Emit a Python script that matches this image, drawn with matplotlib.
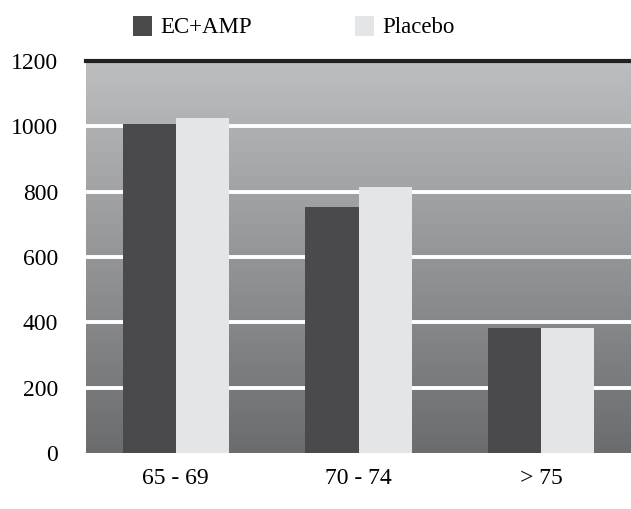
import matplotlib
matplotlib.use("Agg")
import matplotlib.pyplot as plt
import numpy as np

# Age groups and counts per arm
groups = ["65 - 69", "70 - 74", "> 75"]
ec_amp = [1007, 753, 383]
placebo = [1025, 814, 383]
yticks = [0, 200, 400, 600, 800, 1000, 1200]

plt.rcParams["font.family"] = ["Liberation Serif", "DejaVu Serif"]

fig = plt.figure(figsize=(6.31, 5.09), dpi=100)
ax = fig.add_axes([86 / 631, 1 - 453 / 509, (631 - 86) / 631, (453 - 61) / 509])

x = np.arange(len(groups))
w = 0.29
xlo, xhi = -0.49, 2.49

# vertical grey gradient for the plot background, light at the top
grad = np.linspace(0, 1, 256).reshape(-1, 1)
cmap = matplotlib.colors.LinearSegmentedColormap.from_list("bg", ["#bdbec0", "#6b6c6e"])
ax.imshow(grad, aspect="auto", cmap=cmap, extent=[xlo, xhi, 0, 1200],
          origin="upper", zorder=0)
ax.set_xlim(xlo, xhi)
ax.set_ylim(0, 1200)

for y in yticks[1:-1]:
    ax.axhline(y, color="white", lw=2.8, zorder=1)
ax.axhline(1200, color="#231f20", lw=3, zorder=3, clip_on=False)

ax.bar(x - w / 2, ec_amp, w, color="#4a4a4c", zorder=2, label="EC+AMP")
ax.bar(x + w / 2, placebo, w, color="#e4e5e7", zorder=2, label="Placebo")

for s in ax.spines.values():
    s.set_visible(False)
ax.set_yticks(yticks)
ax.set_yticklabels([str(v) for v in yticks], fontsize=17)
ax.set_xticks(x)
ax.set_xticklabels(groups, fontsize=17)
ax.tick_params(length=0)
ax.tick_params(axis="y", pad=20)
ax.tick_params(axis="x", pad=11)

leg = fig.legend(loc="upper left", bbox_to_anchor=(112 / 631, 1.01), ncol=2,
                 frameon=False, fontsize=16.5, handlelength=0.85, handleheight=0.97,
                 columnspacing=4.5, handletextpad=0.35)

fig.savefig("out.png", dpi=100)
